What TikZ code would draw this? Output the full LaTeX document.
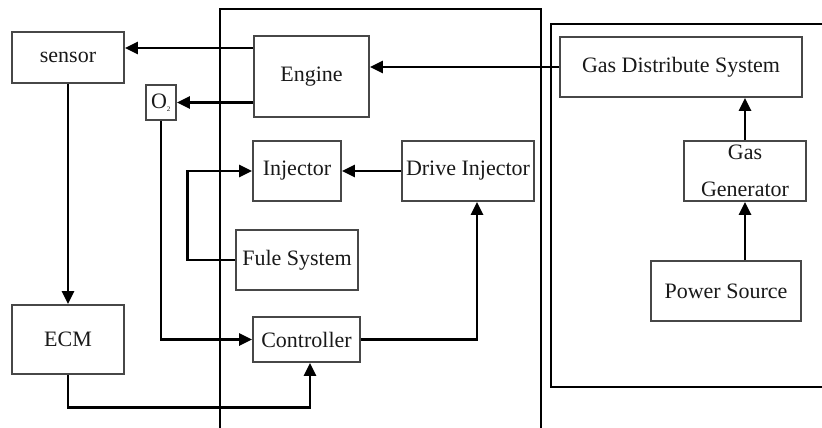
\documentclass[tikz,border=0pt]{standalone}
\usepackage{fontspec}
\setmainfont{Liberation Serif}
\usetikzlibrary{arrows.meta}

\tikzset{
  box/.style={draw=black!72, line width=1.8pt, inner sep=0pt, text=black!90,
    font=\fontsize{22}{24}\selectfont, align=center},
  conn/.style={line width=2.9pt, -{Triangle[length=13pt,width=12pt]}},
  panel/.style={line width=1.5pt, black}
}

\begin{document}
\begin{tikzpicture}[x=1pt, y=-1pt]
\useasboundingbox (0,0) rectangle (822,428);

% system panels
\draw[panel] (220,428) -- (220,9) -- (541,9) -- (541,428);
\draw[panel] (822,24) -- (551,24) -- (551,387) -- (822,387);

% blocks
\node[box, minimum width=112pt, minimum height=51pt] (sensor) at (68,57.5) {sensor};
\node[box, minimum width=30pt, minimum height=35pt] (O2) at (161,102.5) {O\textsubscript{\fontsize{7}{7}\selectfont 2}};
\node[box, minimum width=115pt, minimum height=81pt] (Engine) at (311.5,76.5) {Engine};
\node[box, minimum width=242pt, minimum height=60pt] (GDS) at (681,67) {Gas Distribute System};
\node[box, minimum width=122pt, minimum height=60pt,
  label={[name=GGtext, font=\fontsize{22}{24}\selectfont, text=black!90, align=center, yshift=0.5pt]center:{Gas\\[13pt]Generator}}] (GG) at (745,171) {};
\node[box, minimum width=150pt, minimum height=60pt] (Power) at (726,291) {Power Source};
\node[box, minimum width=88pt, minimum height=60pt] (Injector) at (297,171) {Injector};
\node[box, minimum width=132pt, minimum height=60pt] (Drive) at (468,171) {Drive Injector};
\node[box, minimum width=122pt, minimum height=60pt] (Fule) at (297,260) {Fule System};
\node[box, minimum width=107pt, minimum height=45pt] (Controller) at (306.5,339.5) {Controller};
\node[box, minimum width=112pt, minimum height=69pt] (ECM) at (68,339.5) {ECM};

% signal and supply paths
\coordinate (e1) at ([yshift=28.5pt]Engine.west);
\draw[conn] (e1) -- (e1 -| sensor.east);
\draw[conn] (Engine.west |- O2.east) -- (O2.east);
\draw[conn] (GDS.west) -- (GDS.west -| Engine.east);
\draw[conn] (GG.north) -- (GG.north |- GDS.south);
\draw[conn] (GG.south |- Power.north) -- (GG.south);
\draw[conn] (sensor.south) -- (ECM.north);
\draw[conn] (Drive.west) -- (Injector.east);
\draw[conn] (Fule.west) -- ++(-48,0) |- (Injector.west);
\draw[conn] (O2.south) |- (Controller.west);
\coordinate (d1) at ([xshift=9pt]Drive.south);
\draw[conn] (Controller.east) -| (d1);
\coordinate (c1) at ([xshift=3.5pt]Controller.south);
\draw[conn] (ECM.south) -- ++(0,33) -| (c1);
\end{tikzpicture}
\end{document}
